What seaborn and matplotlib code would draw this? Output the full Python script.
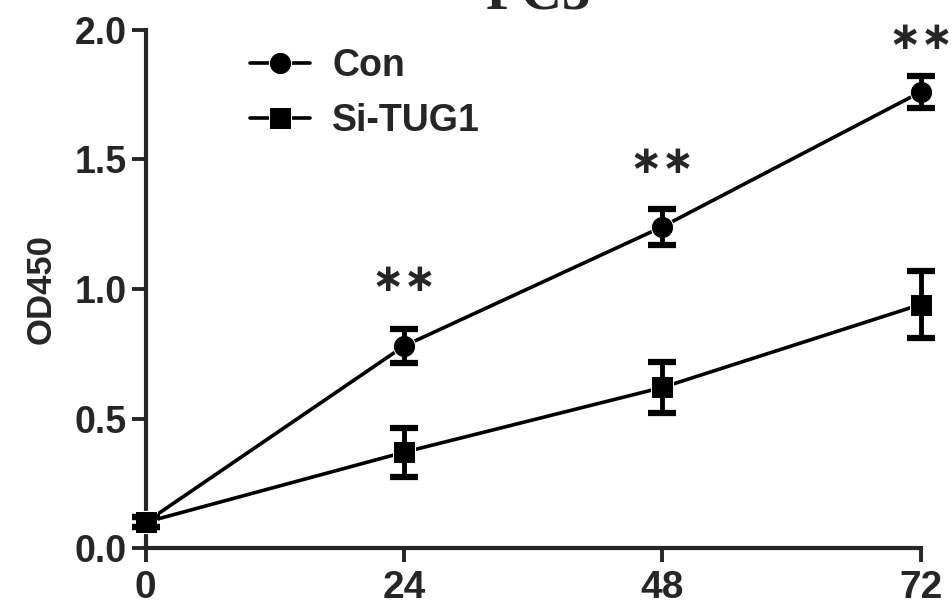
import numpy as np
import pandas as pd
import matplotlib
matplotlib.use("Agg")
import matplotlib.pyplot as plt
import seaborn as sns

# values
hours = [0, 24, 48, 72]
con_mean = [0.10, 0.78, 1.24, 1.76]
con_err = [0.02, 0.065, 0.07, 0.06]
si_mean = [0.10, 0.37, 0.62, 0.94]
si_err = [0.02, 0.095, 0.10, 0.13]
groups = ["Con", "Si-TUG1"]
star_hours = [24, 48, 72]
star_y = [1.035, 1.49, 1.97]
y_ticks = [0.0, 0.5, 1.0, 1.5, 2.0]

sns.set_style("ticks")
plt.rcParams["font.family"] = ["Liberation Sans", "DejaVu Sans"]
plt.rcParams["font.weight"] = "bold"

df = pd.DataFrame({
    "hour": hours * 2,
    "od": con_mean + si_mean,
    "err": con_err + si_err,
    "group": [groups[0]] * 4 + [groups[1]] * 4,
})

fig = plt.figure(figsize=(9.53, 6.09), dpi=100)
ax = fig.add_axes([0.153, 0.100, 0.813, 0.851])

sns.lineplot(data=df, x="hour", y="od", style="group", markers={"Con": "o", "Si-TUG1": "s"},
             dashes=False, color="black", linewidth=2.6, markersize=16, ax=ax,
             clip_on=False, zorder=3)
for g in groups:
    sub = df[df["group"] == g]
    ax.errorbar(sub["hour"], sub["od"], yerr=sub["err"], fmt="none", ecolor="black",
                elinewidth=3.5, capsize=10, capthick=4.5, clip_on=False, zorder=4)

# significance marks
for h, y in zip(star_hours, star_y):
    ax.text(h, y, "\u2217\u2217", ha="center", va="center", fontsize=28,
            fontweight="bold", family=["DejaVu Sans"])

ax.set_xlim(0, 72)
ax.set_ylim(0, 2.0)
ax.set_xticks(hours)
ax.set_yticks(y_ticks)
ax.set_yticklabels([f"{v:.1f}" for v in y_ticks])
ax.set_xlabel("")
ax.set_ylabel("OD450", fontsize=25, fontweight="bold", labelpad=12)
ax.tick_params(axis="y", labelsize=27, width=2.8, length=10, pad=4)
ax.tick_params(axis="x", labelsize=28, width=2.8, length=10, pad=6)
for lab in ax.get_xticklabels() + ax.get_yticklabels():
    lab.set_fontweight("bold")
for s in ["left", "bottom"]:
    ax.spines[s].set_linewidth(3)
sns.despine(ax=ax)

leg = ax.legend(frameon=False, loc="upper left", bbox_to_anchor=(0.1, 1.015),
                fontsize=27, handlelength=1.6, handletextpad=0.6, labelspacing=0.5,
                borderpad=0.2)
for t in leg.get_texts():
    t.set_fontweight("bold")

fig.text(0.565, 0.986, "PC3", ha="center", va="baseline", fontsize=41,
         fontweight="bold", family=["Liberation Serif", "DejaVu Serif"])

fig.savefig("out.png", dpi=100)
